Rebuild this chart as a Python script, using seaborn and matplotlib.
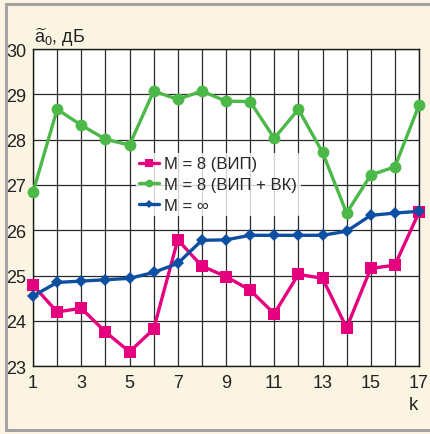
import numpy as np
import pandas as pd
import seaborn as sns
import matplotlib
matplotlib.use("Agg")
import matplotlib.pyplot as plt
from matplotlib.lines import Line2D

k = list(range(1, 18))
vip = [24.79, 24.20, 24.28, 23.76, 23.32, 23.82, 25.79, 25.21, 24.98,
       24.68, 24.16, 25.03, 24.94, 23.85, 25.16, 25.23, 26.40]
vip_vk = [26.84, 28.67, 28.32, 28.01, 27.88, 29.07, 28.89, 29.07, 28.85,
          28.84, 28.03, 28.67, 27.72, 26.38, 27.22, 27.40, 28.76]
m_inf = [24.55, 24.85, 24.88, 24.91, 24.94, 25.07, 25.27, 25.78, 25.79,
         25.89, 25.89, 25.89, 25.89, 25.98, 26.33, 26.38, 26.42]
series_names = ["M = 8 (ВИП)", "M = 8 (ВИП + ВК)", "M = ∞"]
x_ticks = [1, 3, 5, 7, 9, 11, 13, 15, 17]
y_ticks = [23, 24, 25, 26, 27, 28, 29, 30]

sns.set_style("white")
plt.rcParams["font.family"] = ["Liberation Sans", "DejaVu Sans"]
plt.rcParams["mathtext.fontset"] = "custom"
plt.rcParams["mathtext.rm"] = "Liberation Sans"
plt.rcParams["mathtext.it"] = "Liberation Sans"

df = pd.DataFrame({
    "k": k * 3,
    "val": vip + vip_vk + m_inf,
    "series": [series_names[0]] * 17 + [series_names[1]] * 17 + [series_names[2]] * 17,
})

bg = "#fcf4e3"
fig = plt.figure(figsize=(4.3, 4.35), dpi=100, facecolor=bg)

# grey frame on the left, top and bottom of the panel
frame_kw = dict(transform=fig.transFigure, color="#a3a3a3", linewidth=2.2)
x0, y0, y1 = 5.5 / 430, 1 - 431 / 435, 1 - 5 / 435
fig.add_artist(Line2D([x0, x0], [y0, y1], **frame_kw))
fig.add_artist(Line2D([x0, 1.0], [y1, y1], **frame_kw))
fig.add_artist(Line2D([x0, 1.0], [y0, y0], **frame_kw))

ax = fig.add_axes([33 / 430, 1 - 367.3 / 435, 386 / 430, 317.3 / 435])
ax.set_facecolor("white")

colors = {series_names[0]: "#e5007e", series_names[1]: "#4cb848", series_names[2]: "#0d4fa3"}
markers = {series_names[0]: "s", series_names[1]: "o", series_names[2]: "D"}
msizes = {series_names[0]: 8, series_names[1]: 8.5, series_names[2]: 6.5}
zorders = {series_names[0]: 3, series_names[1]: 4, series_names[2]: 5}

for name in series_names:
    sub = df[df["series"] == name]
    sns.lineplot(data=sub, x="k", y="val", ax=ax, color=colors[name],
                 marker=markers[name], markersize=msizes[name],
                 markeredgewidth=0, linewidth=2.4, zorder=zorders[name],
                 legend=False, clip_on=False)

ax.set_xlim(1, 17)
ax.set_ylim(23, 30)
ax.set_xticks(range(1, 18), minor=True)
ax.set_xticks(x_ticks)
ax.set_yticks(y_ticks)
ax.grid(True, which="both", color="#2a2a2a", linewidth=0.9, zorder=0)
ax.set_axisbelow(True)
for s in ax.spines.values():
    s.set_color("#1a1a1a")
    s.set_linewidth(1.0)
ax.tick_params(axis="both", which="both", direction="out", length=3.5,
               width=0.9, color="#1a1a1a", labelsize=13, pad=1.5,
               labelcolor="#222222")
ax.tick_params(axis="x", which="major", pad=2)
ax.set_xlabel("")
ax.set_ylabel("")

fig.text(34 / 430, 1 - 38 / 435, r"$\widetilde{\mathrm{a}}_0$, дБ", fontsize=13,
         color="#222222", ha="left", va="center")
fig.text(413 / 430, 1 - 406 / 435, "k", fontsize=13.5, color="#222222",
         ha="center", va="center")

handles = [Line2D([0], [0], color=colors[n], marker=markers[n],
                  markersize=msizes[n] * 0.65, markeredgewidth=0, linewidth=2.4)
           for n in series_names]
leg = ax.legend(handles, series_names, loc="upper left",
                bbox_to_anchor=((136 - 33) / 386, (367.3 - 154) / 317.3),
                frameon=True, fontsize=12, handlelength=1.2, handletextpad=0.3,
                labelspacing=0.35, borderpad=0.2, borderaxespad=0)
leg.get_frame().set_facecolor("white")
leg.get_frame().set_edgecolor("none")
leg.set_zorder(10)

fig.savefig("out.png", dpi=100, facecolor=bg)
